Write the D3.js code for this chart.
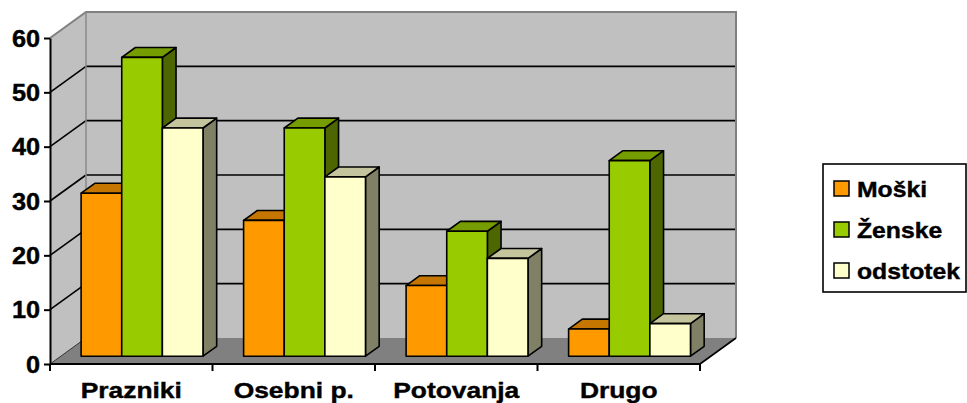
<!DOCTYPE html>
<html><head><meta charset="utf-8">
<script src="https://cdn.jsdelivr.net/npm/d3@7"></script>
<style>
html,body{margin:0;padding:0;background:#fff;}
svg{display:block;font-family:"Liberation Sans",Arial,sans-serif;font-weight:bold;}
text{stroke:#000;stroke-width:0.4px;}
</style></head>
<body>
<svg id="chart" width="967" height="403"></svg>
<script>
const categories = ["Prazniki", "Osebni p.", "Potovanja", "Drugo"];
const seriesNames = ["Moški", "Ženske", "odstotek"];
const moski = [30, 25, 13, 5];
const zenske = [55, 42, 23, 36];
const odstotek = [42, 33, 18, 6];
const yTicks = [0, 10, 20, 30, 40, 50, 60];
const seriesValues = [moski, zenske, odstotek];
const seriesColors = ["#FF9900", "#99CC00", "#FFFFCC"];

(function () {
const svg = d3.select("#chart");
const pLeft = 50, pRight = 700, pBottom = 364, pTop = 38;
const depth = {dx: 36, dy: -26};
const barFront = 0.3, barDepth = 0.38;

const x = d3.scaleBand().domain(categories).range([pLeft, pRight]).padding(0);
const xs = d3.scaleBand().domain(seriesNames).range([0, x.bandwidth()]).paddingInner(0).paddingOuter(0.5);
const y = d3.scaleLinear().domain([0, 60]).range([pBottom, pTop]);

const pts = a => a.map(p => p.join(",")).join(" ");
const yMax = y(60), y0 = y(0);
svg.append("polygon").attr("points", pts([[pLeft, y0], [pLeft, yMax], [pLeft + depth.dx, yMax + depth.dy], [pLeft + depth.dx, y0 + depth.dy]]))
  .attr("fill", "#C0C0C0");
svg.append("polygon").attr("points", pts([[pLeft + depth.dx, yMax + depth.dy], [pRight + depth.dx, yMax + depth.dy], [pRight + depth.dx, y0 + depth.dy], [pLeft + depth.dx, y0 + depth.dy]]))
  .attr("fill", "#C0C0C0");
svg.append("polygon").attr("points", pts([[pLeft, y0], [pLeft + depth.dx, y0 + depth.dy], [pRight + depth.dx, y0 + depth.dy], [pRight, y0]]))
  .attr("fill", "#808080");

const gl = svg.append("g");
yTicks.filter(t => t > 0 && t < 60).forEach(t => {
  const yy = y(t);
  gl.append("line").attr("x1", pLeft).attr("y1", yy).attr("x2", pLeft + depth.dx).attr("y2", yy + depth.dy)
    .attr("stroke", "#000").attr("stroke-width", 1.6);
  gl.append("line").attr("x1", pLeft + depth.dx).attr("y1", yy + depth.dy).attr("x2", pRight + depth.dx).attr("y2", yy + depth.dy)
    .attr("stroke", "#000").attr("stroke-width", 1.6);
});
gl.append("line").attr("x1", pLeft).attr("y1", y0).attr("x2", pLeft + depth.dx).attr("y2", y0 + depth.dy)
  .attr("stroke", "#333").attr("stroke-width", 1);
gl.append("polyline").attr("points", pts([[pLeft, yMax], [pLeft + depth.dx, yMax + depth.dy], [pRight + depth.dx, yMax + depth.dy], [pRight + depth.dx, y0 + depth.dy]]))
  .attr("fill", "none").attr("stroke", "#808080").attr("stroke-width", 2);
gl.append("line").attr("x1", pLeft + depth.dx).attr("y1", yMax + depth.dy).attr("x2", pLeft + depth.dx).attr("y2", y0 + depth.dy)
  .attr("stroke", "#8a8a8a").attr("stroke-width", 1.5);
gl.append("line").attr("x1", pRight).attr("y1", y0).attr("x2", pRight + depth.dx).attr("y2", y0 + depth.dy)
  .attr("stroke", "#000").attr("stroke-width", 1.6);

const shade = (c, k) => { const r = d3.rgb(c); return d3.rgb(r.r * k, r.g * k, r.b * k).formatHex(); };
const fx = depth.dx * barFront, fy = depth.dy * barFront;
const bx = depth.dx * barDepth, by = depth.dy * barDepth;
const bars = svg.append("g").attr("stroke", "#000").attr("stroke-width", 1.6).attr("stroke-linejoin", "round");
categories.forEach((cat, ci) => {
  seriesNames.forEach((s, si) => {
    const v = seriesValues[si][ci];
    const x0 = x(cat) + xs(s) + fx, x1 = x0 + xs.bandwidth();
    const yb = y(0) + fy, yt = y(v) + fy;
    const col = seriesColors[si];
    bars.append("polygon").attr("points", pts([[x1, yb], [x1, yt], [x1 + bx, yt + by], [x1 + bx, yb + by]])).attr("fill", shade(col, 0.5));
    bars.append("polygon").attr("points", pts([[x0, yt], [x0 + bx, yt + by], [x1 + bx, yt + by], [x1, yt]])).attr("fill", shade(col, 0.77));
    bars.append("rect").attr("x", x0).attr("y", yt).attr("width", x1 - x0).attr("height", yb - yt).attr("fill", col);
  });
});

const yAxis = svg.append("g").attr("transform", `translate(${pLeft},0)`)
  .call(d3.axisLeft(y).tickValues(yTicks).tickSize(6).tickSizeOuter(0).tickPadding(4).tickFormat(d3.format("d")));
yAxis.select(".domain").attr("stroke", "#000").attr("stroke-width", 2);
yAxis.selectAll(".tick line").attr("stroke", "#000").attr("stroke-width", 2);
yAxis.selectAll(".tick text").attr("font-size", 23).attr("font-family", "Liberation Sans, Arial, sans-serif")
  .attr("font-weight", "bold").attr("fill", "#000").attr("x", 0).attr("dy", "0.36em")
  .attr("transform", "translate(-10,0) scale(1.1,1)");

svg.append("line").attr("x1", pLeft).attr("y1", y0).attr("x2", pRight).attr("y2", y0).attr("stroke", "#000").attr("stroke-width", 2);
const bounds = categories.map(c => x(c)).concat([x.range()[1]]);
svg.append("g").selectAll("line").data(bounds).join("line")
  .attr("x1", d => d).attr("x2", d => d).attr("y1", y0).attr("y2", y0 + 7).attr("stroke", "#000").attr("stroke-width", 2);
svg.append("g").selectAll("text").data(categories).join("text")
  .attr("transform", d => `translate(${x(d) + x.bandwidth() / 2},398) scale(1.2,1)`)
  .attr("text-anchor", "middle").attr("font-size", 22).attr("fill", "#000").text(d => d);

const lg = svg.append("g");
lg.append("rect").attr("x", 823).attr("y", 164).attr("width", 143).attr("height", 128).attr("fill", "#fff").attr("stroke", "#000").attr("stroke-width", 1.6);
seriesNames.forEach((s, i) => {
  const cy = 189 + i * 41;
  lg.append("rect").attr("x", 834).attr("y", cy - 8).attr("width", 15).attr("height", 15).attr("fill", seriesColors[i]).attr("stroke", "#000").attr("stroke-width", 1.5);
  lg.append("text").attr("transform", `translate(857,${cy + 8}) scale(1.1,1)`).attr("font-size", 22.5).attr("fill", "#000").text(s);
});
})();
</script>
</body></html>
